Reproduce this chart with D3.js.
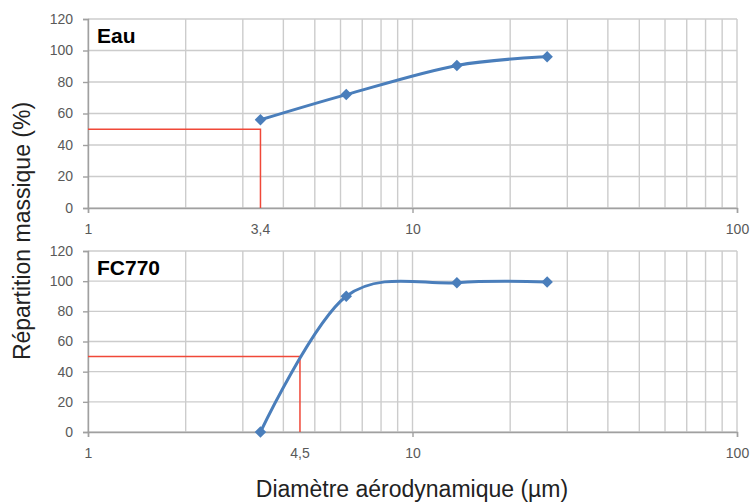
<html>
<head>
<meta charset="utf-8">
<style>
  body { margin: 0; background: #ffffff; }
  svg { display: block; }
</style>
</head>
<body>
<div id="chart"></div>

<script src="https://d3js.org/d3.v7.min.js"></script>
<script type="text/javascript">
// data
var diameters   = [3.4, 6.25, 13.7, 26];   // µm
var eauValues   = [56, 72, 90.5, 96];      // %
var fc770Values = [0, 90, 99, 99.5];       // %
var panelNames  = ["Eau", "FC770"];
var d50Values   = [3.4, 4.5];
var d50Labels   = ["3,4", "4,5"];
var yTicks      = [0, 20, 40, 60, 80, 100, 120];
var xMajor      = [1, 10, 100];

var W = 750, H = 502;
var blue = "#4a7ebb", red = "#f04838", grid = "#cccccc", axisCol = "#a0a0a0", tickCol = "#595959";

var svg = d3.select("#chart").append("svg")
  .attr("width", W).attr("height", H)
  .style("font-family", "'Liberation Sans', Arial, sans-serif");

// panel positions
var panels = [
  {name: panelNames[0], values: eauValues,   d50: d50Values[0], d50Label: d50Labels[0], top: 19,  bottom: 208},
  {name: panelNames[1], values: fc770Values, d50: d50Values[1], d50Label: d50Labels[1], top: 251, bottom: 432}
];

var x = d3.scaleLog().domain([1, 100]).range([88, 737]);

// minor grid: 1..10, 20..100
var xGrid = [];
for (var dec = 1; dec < 100; dec *= 10) {
  for (var k = 1; k <= 9; k++) xGrid.push(k * dec);
}
xGrid.push(100);

var line = d3.line().curve(d3.curveCardinal.tension(0));
var diamond = d3.symbol().type(d3.symbolSquare).size(66);

panels.forEach(function(p) {
  var y = d3.scaleLinear().domain([0, 120]).range([p.bottom, p.top]);
  var g = svg.append("g");

  // gridlines
  g.selectAll("line.h").data(yTicks).enter().append("line")
    .attr("x1", x(1)).attr("x2", x(100))
    .attr("y1", function(d){ return y(d); }).attr("y2", function(d){ return y(d); })
    .attr("stroke", grid).attr("stroke-width", 1.4);
  g.selectAll("line.v").data(xGrid).enter().append("line")
    .attr("x1", function(d){ return x(d); }).attr("x2", function(d){ return x(d); })
    .attr("y1", y(120)).attr("y2", y(0))
    .attr("stroke", grid).attr("stroke-width", 1.4);

  // axes
  var yAxis = g.append("g").attr("transform", "translate(" + x(1) + ",0)")
    .call(d3.axisLeft(y).tickValues(yTicks).tickSize(5).tickPadding(10));
  var xAxis = g.append("g").attr("transform", "translate(0," + y(0) + ")")
    .call(d3.axisBottom(x).tickValues(xMajor).tickFormat(d3.format("d")).tickSize(5).tickPadding(11));
  [yAxis, xAxis].forEach(function(a) {
    a.select(".domain").attr("stroke", axisCol).attr("stroke-width", 1.4);
    a.selectAll(".tick line").attr("stroke", axisCol).attr("stroke-width", 1.4);
    a.selectAll(".tick text").attr("fill", tickCol)
      .style("font-size", "14px").style("font-family", "'Liberation Sans', Arial, sans-serif");
  });

  // d50 label under the axis
  g.append("text")
    .attr("x", x(p.d50)).attr("y", y(0) + 26)
    .attr("text-anchor", "middle").attr("fill", tickCol)
    .style("font-size", "14px")
    .text(p.d50Label);

  // red d50 guide
  g.append("path")
    .attr("d", "M" + x(1) + "," + y(50) + "H" + x(p.d50) + "V" + y(0))
    .attr("fill", "none").attr("stroke", red).attr("stroke-width", 1.5);

  // series
  var pts = diameters.map(function(d, i){ return [x(d), y(p.values[i])]; });
  g.append("path").attr("d", line(pts))
    .attr("fill", "none").attr("stroke", blue).attr("stroke-width", 3);
  g.selectAll("path.mk").data(pts).enter().append("path")
    .attr("d", diamond)
    .attr("transform", function(d){ return "translate(" + d[0] + "," + d[1] + ") rotate(45)"; })
    .attr("fill", blue);

  // panel title
  g.append("text")
    .attr("x", 97).attr("y", p.top + 24)
    .style("font-size", "21px").style("font-weight", "bold")
    .attr("fill", "#000")
    .text(p.name);
});

// axis titles
svg.append("text")
  .attr("x", 412).attr("y", 497)
  .attr("text-anchor", "middle")
  .style("font-size", "23px").attr("fill", "#222")
  .text("Diamètre aérodynamique (µm)");

svg.append("text")
  .attr("transform", "translate(30,231) rotate(-90)")
  .attr("text-anchor", "middle")
  .style("font-size", "23px").attr("fill", "#222")
  .text("Répartition massique (%)");
</script>
</body>
</html>
